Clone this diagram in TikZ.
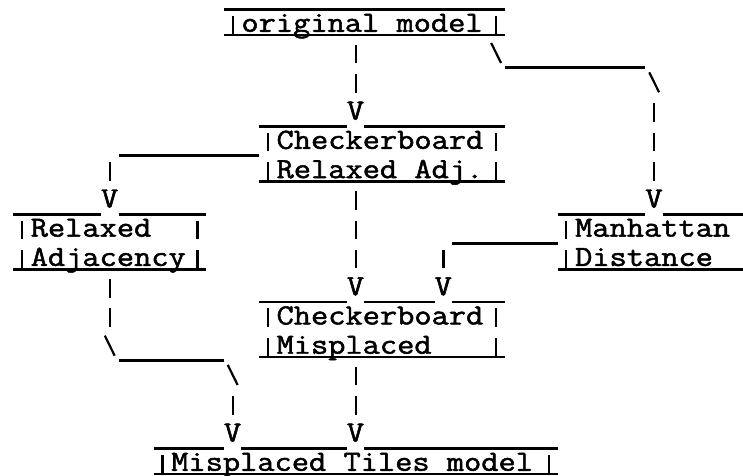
\documentclass[tikz,border=0pt]{standalone}
\usepackage{fontspec}
\newfontfamily\ascfont{lmmono12-regular.otf}[FakeBold=1.6]
\tikzset{
  asc/.style={inner sep=0pt, outer sep=0pt, font=\fontsize{12}{12}\selectfont\ascfont},
  barline/.style={line width=0.9pt, line cap=butt},
  usline/.style={line width=1.1pt, line cap=butt},
}
% text placed on the character grid (col, row)
\newcommand\atxt[4]{\node[asc,anchor=base west] (#1) at ({#2+0.75},{#3+0.086}) {\scalebox{1.1429}[1]{#4}};}
\newcommand\aV[3]{\node[asc,anchor=base west] (#1) at ({#2+0.75},{#3+0.086}) {\scalebox{1.1429}[1]{V}};}
% vertical bar character
\newcommand\avbar[2]{\draw[barline] ({#1+1.25},{#2+0.169}) -- ({#1+1.25},{#2-0.464});}
% backslash character
\newcommand\absl[2]{\draw[barline] ({#1+0.97},{#2-0.531}) -- ({#1+1.53},{#2+0.153});}
% run of underscores from column #1 to #2 in row #3
\newcommand\ausc[3]{\draw[usline] ({#1+0.75},{#3+0.3175}) -- ({#2+1.75},{#3+0.3175});}
% underline of a text row
\newcommand\aul[3]{\draw[usline] ({#1+0.75},{#3+0.2}) -- ({#2+1.75},{#3+0.2});}
\begin{document}
\begin{tikzpicture}[x=7.2pt,y=-12pt]
\useasboundingbox (0,0) rectangle (42.31,16.23);
\fill[white] (0,0) rectangle (42.31,16.23);
\clip (0,0) rectangle (42.31,16.23);

% original model
\ausc{12}{27}{0}
\avbar{12}{1}\avbar{27}{1}
\atxt{orig}{13}{1}{original~model}
\aul{12}{27}{1}

% Checkerboard / Relaxed Adj.
\ausc{14}{18}{4}\ausc{20}{27}{4}
\avbar{14}{5}\avbar{27}{5}\avbar{14}{6}\avbar{27}{6}
\atxt{cbraA}{15}{5}{Checkerboard}
\atxt{cbraB}{15}{6}{Relaxed~Adj.}
\aul{14}{27}{6}

% Relaxed / Adjacency
\ausc{0}{4}{7}\ausc{6}{10}{7}
\avbar{0}{8}\avbar{10}{8}\avbar{0}{9}\avbar{10}{9}
\atxt{raA}{1}{8}{Relaxed}
\atxt{raB}{1}{9}{Adjacency}
\aul{0}{10}{9}

% Manhattan / Distance
\ausc{31}{35}{7}\ausc{37}{41}{7}
\avbar{31}{8}\avbar{31}{9}
\atxt{mdA}{32}{8}{Manhattan}
\atxt{mdB}{32}{9}{Distance}
\aul{31}{41}{9}

% Checkerboard / Misplaced
\ausc{14}{18}{10}\ausc{20}{23}{10}\ausc{25}{27}{10}
\avbar{14}{11}\avbar{27}{11}\avbar{14}{12}\avbar{27}{12}
\atxt{cbmA}{15}{11}{Checkerboard}
\atxt{cbmB}{15}{12}{Misplaced}
\aul{14}{27}{12}

% Misplaced Tiles model
\ausc{8}{11}{15}\ausc{13}{18}{15}\ausc{20}{30}{15}
\avbar{8}{16}\avbar{30}{16}
\atxt{mtm}{9}{16}{Misplaced~Tiles~model}
\aul{8}{30}{16}

% connectors
\avbar{19}{2}\avbar{19}{3}\aV{va}{19}{4}
\absl{27}{2}\ausc{28}{35}{2}\absl{36}{3}\avbar{36}{4}\avbar{36}{5}\avbar{36}{6}\aV{vb}{36}{7}
\ausc{6}{13}{5}\avbar{5}{6}\aV{vc}{5}{7}
\avbar{19}{7}\avbar{19}{8}\avbar{19}{9}\aV{vd}{19}{10}
\ausc{25}{30}{8}\avbar{24}{9}\aV{ve}{24}{10}
\avbar{5}{10}\avbar{5}{11}\absl{5}{12}\ausc{6}{11}{12}\absl{12}{13}\avbar{12}{14}\aV{vf}{12}{15}
\avbar{19}{13}\avbar{19}{14}\aV{vg}{19}{15}
\end{tikzpicture}
\end{document}
